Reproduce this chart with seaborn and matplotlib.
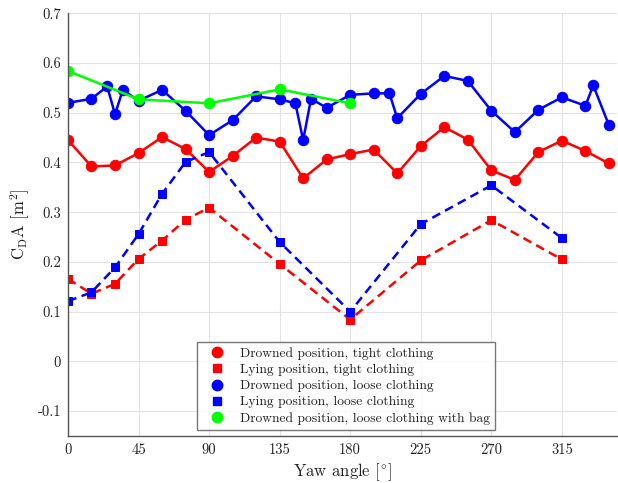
import numpy as np
import pandas as pd
import matplotlib
matplotlib.use("Agg")
import matplotlib.pyplot as plt
from matplotlib.lines import Line2D
import seaborn as sns

# ---- data ----
yaw_drowned = [0, 15, 30, 45, 60, 75, 90, 105, 120, 135, 150, 165, 180, 195, 210,
               225, 240, 255, 270, 285, 300, 315, 330, 345]
cda_drowned_tight = [0.445, 0.392, 0.394, 0.419, 0.451, 0.427, 0.381, 0.413, 0.450,
                     0.442, 0.368, 0.406, 0.417, 0.426, 0.378, 0.433, 0.471, 0.446,
                     0.384, 0.365, 0.421, 0.444, 0.423, 0.398]

yaw_drowned_loose = [0, 15, 25, 30, 35, 45, 60, 75, 90, 105, 120, 135, 145, 150, 155,
                     165, 180, 195, 205, 210, 225, 240, 255, 270, 285, 300, 315, 330,
                     335, 345]
cda_drowned_loose = [0.520, 0.528, 0.553, 0.497, 0.546, 0.524, 0.546, 0.504, 0.455,
                     0.485, 0.533, 0.527, 0.519, 0.445, 0.528, 0.510, 0.536, 0.539,
                     0.539, 0.489, 0.538, 0.574, 0.564, 0.504, 0.461, 0.506, 0.531,
                     0.514, 0.555, 0.475]

yaw_lying = [0, 15, 30, 45, 60, 75, 90, 135, 180, 225, 270, 315]
cda_lying_tight = [0.166, 0.136, 0.156, 0.206, 0.243, 0.285, 0.309, 0.196, 0.084,
                   0.203, 0.284, 0.205]
cda_lying_loose = [0.121, 0.139, 0.189, 0.256, 0.337, 0.401, 0.421, 0.240, 0.100,
                   0.276, 0.354, 0.248]

yaw_bag = [0, 45, 90, 135, 180]
cda_bag = [0.584, 0.527, 0.519, 0.547, 0.519]

labels = ["Drowned position, tight clothing",
          "Lying position, tight clothing",
          "Drowned position, loose clothing",
          "Lying position, loose clothing",
          "Drowned position, loose clothing with bag"]
xticks = [0, 45, 90, 135, 180, 225, 270, 315]
yticks = [-0.1, 0, 0.1, 0.2, 0.3, 0.4, 0.5, 0.6, 0.7]
ytick_labels = ["-0.1", "0", "0.1", "0.2", "0.3", "0.4", "0.5", "0.6", "0.7"]

# ---- style ----
sns.set_theme(style="whitegrid")
plt.rcParams.update({
    "font.family": "serif",
    "font.serif": ["cmr10", "DejaVu Serif"],
    "mathtext.fontset": "cm",
    "axes.unicode_minus": False,
    "axes.formatter.use_mathtext": False,
})

RED = (1, 0, 0)
BLUE = (0, 0, 1)
GREEN = (0, 1, 0)

fig = plt.figure(figsize=(6.18, 4.83), dpi=100)
ax = fig.add_axes([0.110, 0.0973, 0.888, 0.8752])

series = [
    (yaw_drowned, cda_drowned_tight, RED, "o", "-", 7.5),
    (yaw_lying, cda_lying_tight, RED, "s", "--", 6),
    (yaw_drowned_loose, cda_drowned_loose, BLUE, "o", "-", 7.5),
    (yaw_lying, cda_lying_loose, BLUE, "s", "--", 6),
    (yaw_bag, cda_bag, GREEN, "o", "-", 7.5),
]
for (x, y, c, m, ls, ms), lab in zip(series, labels):
    df = pd.DataFrame({"yaw": x, "cda": y})
    sns.lineplot(data=df, x="yaw", y="cda", ax=ax, color=c, marker=m,
                 markersize=ms, markeredgecolor=c, linewidth=1.8,
                 sort=False, legend=False)
    line = ax.lines[-1]
    line.set_linestyle(ls)
    if ls == "--":
        line.set_dashes((3.6, 2.2))

ax.set_xlim(0, 350)
ax.set_ylim(-0.15, 0.7)
ax.set_xticks(xticks)
ax.set_yticks(yticks)
ax.set_xticklabels([str(t) for t in xticks])
ax.set_yticklabels(ytick_labels)
ax.tick_params(direction="in", length=4, width=0.8, color="#555555",
               labelsize=10.5, labelcolor="#222222", pad=5)
ax.grid(True, color="#e3e3e3", linewidth=0.8)
for s in ["top", "right"]:
    ax.spines[s].set_visible(False)
for s in ["left", "bottom"]:
    ax.spines[s].set_color("#555555")
    ax.spines[s].set_linewidth(1.0)

ax.set_xlabel(r"Yaw angle [$^{\circ}$]", fontsize=12, color="#222222", labelpad=3)
ax.set_ylabel(r"C$_\mathrm{D}$A [m$^2$]", fontsize=12, color="#222222", labelpad=4)

handles = [Line2D([], [], color=c, marker=m, linestyle="none", markersize=ms)
           for (x, y, c, m, ls, ms) in series]
leg = ax.legend(handles, labels, loc="lower left", bbox_to_anchor=(0.235, 0.014),
                fontsize=9.7, frameon=True, fancybox=False, borderpad=0.4,
                labelspacing=0.27, handletextpad=0.63, handlelength=2.17,
                borderaxespad=0)
leg.get_frame().set_edgecolor("#555555")
leg.get_frame().set_linewidth(1.0)
for t in leg.get_texts():
    t.set_color("#222222")

fig.savefig("out.png", dpi=100)
